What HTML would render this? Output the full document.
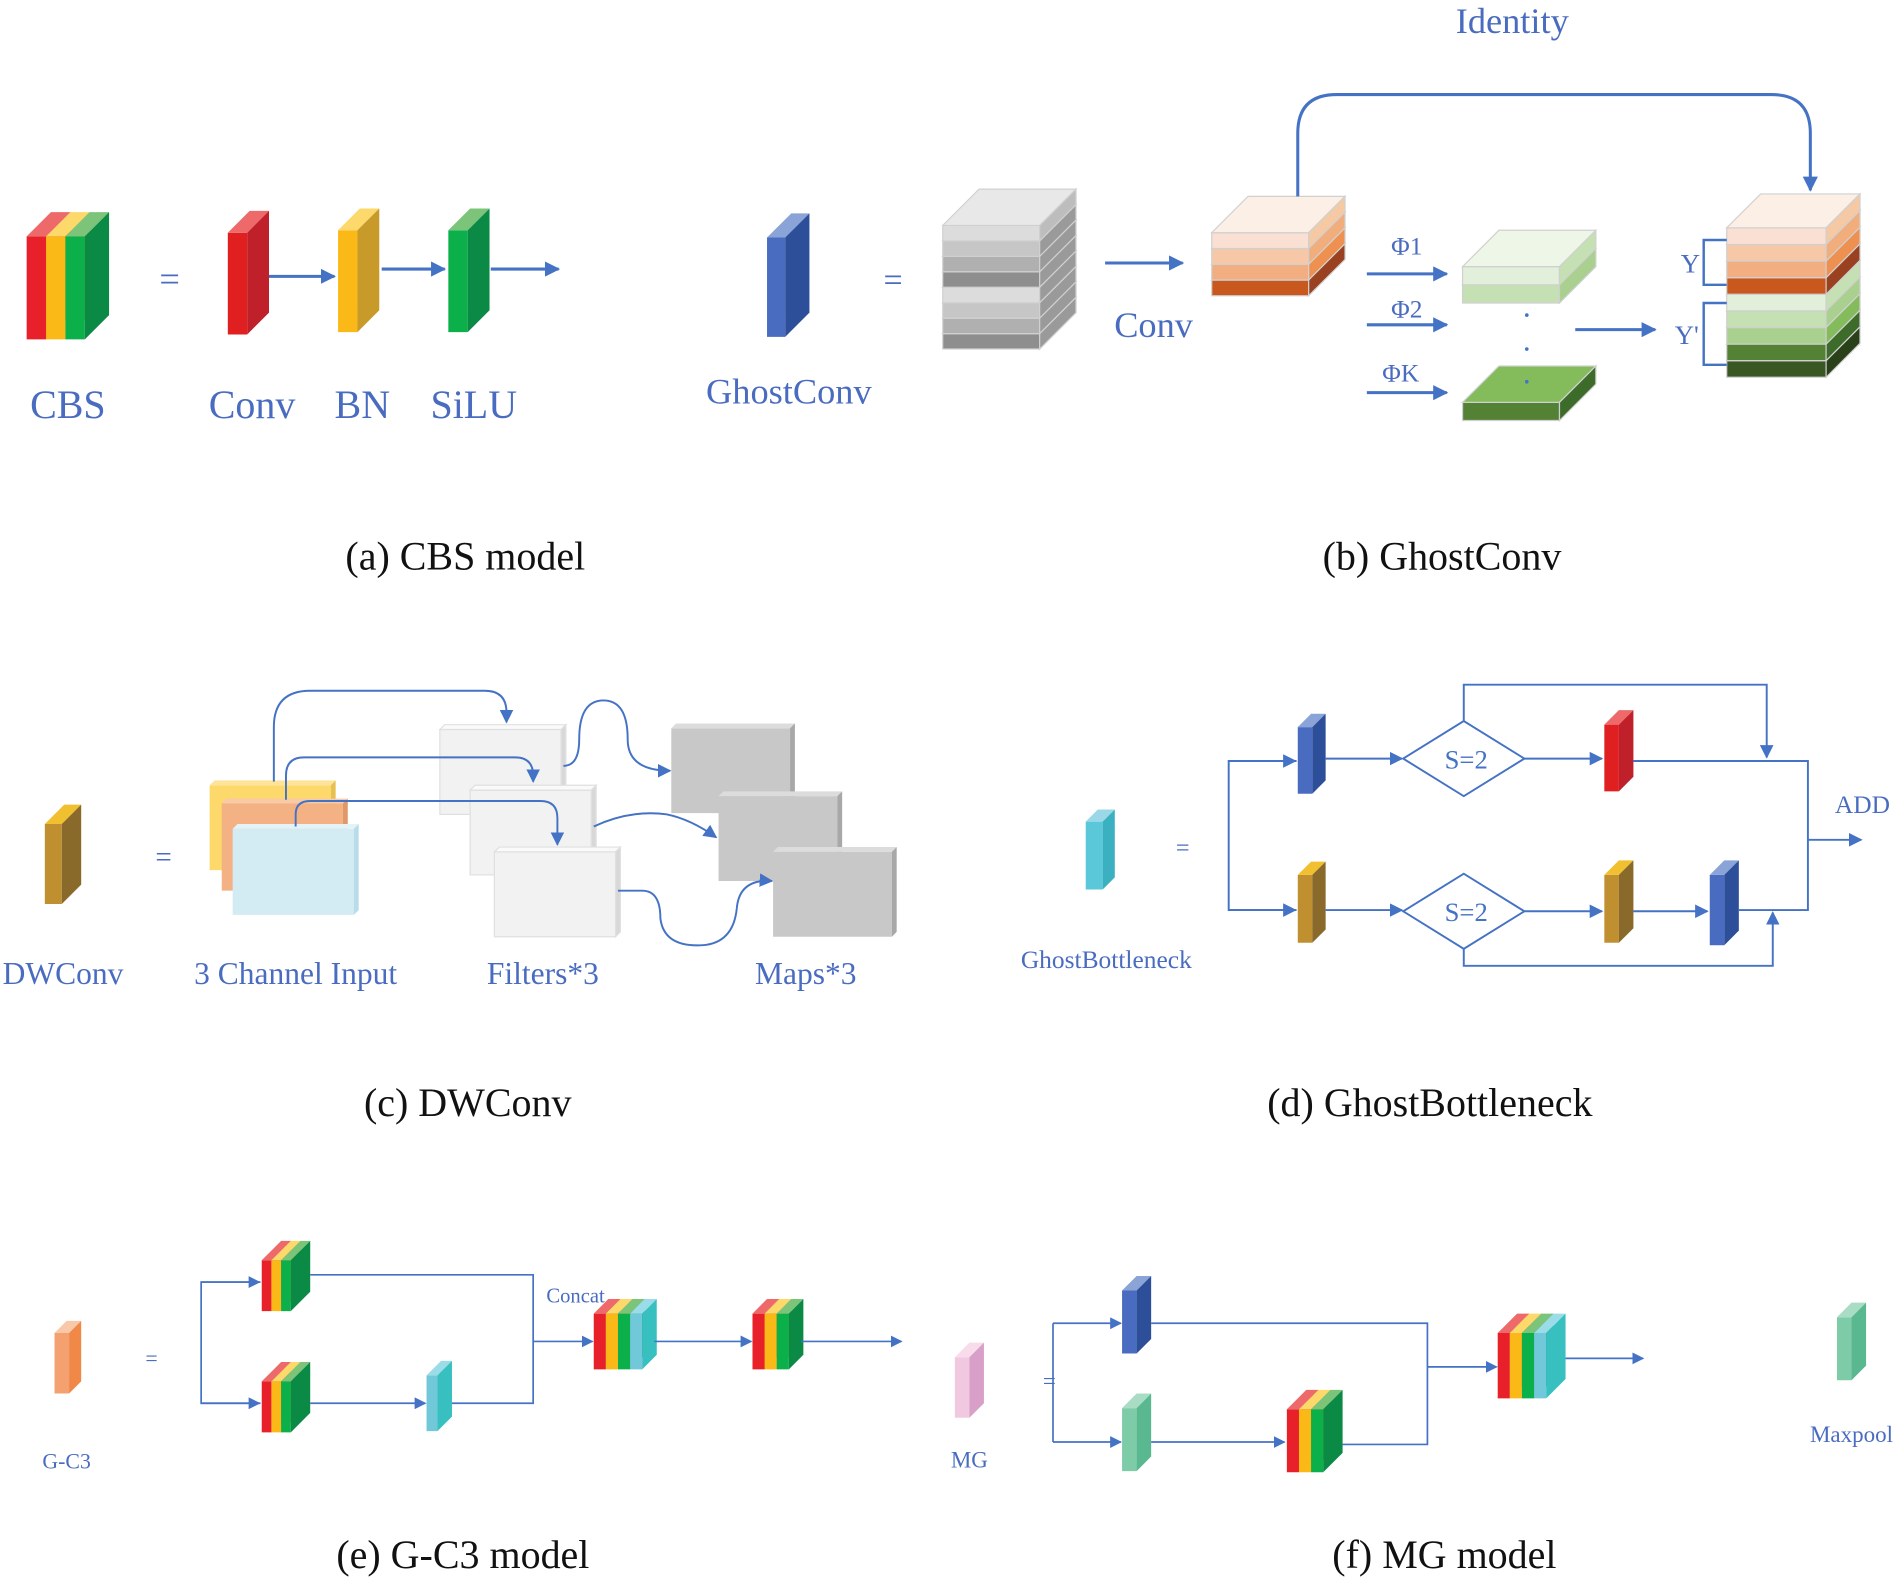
<!DOCTYPE html>
<html><head><meta charset="utf-8"><style>
html,body{margin:0;padding:0;background:#fff;}
svg{display:block;}
text{font-family:"Liberation Serif",serif;}
.b{fill:#4a6cc0;}
.cap{fill:#111;font-size:33px;text-anchor:middle;}
</style></head><body>
<svg id="s" xmlns="http://www.w3.org/2000/svg" width="1900" height="1579" viewBox="0 0 1568 1303">
<defs>
<marker id="A" viewBox="0 0 10 10" refX="9" refY="5" markerWidth="5" markerHeight="5" orient="auto" markerUnits="strokeWidth"><path d="M0,0 L10,5 L0,10 z" fill="#4472c4"/></marker>
<marker id="a" viewBox="0 0 10 10" refX="9" refY="5" markerWidth="7" markerHeight="7" orient="auto" markerUnits="strokeWidth"><path d="M0,0 L10,5 L0,10 z" fill="#4472c4"/></marker>
</defs>
<g id="shapes"></g>
<g fill="none" stroke="#4472c4">
<!-- a -->
<g stroke-width="2.5" marker-end="url(#A)">
<path d="M222 228 H276"/><path d="M315 222 H367"/><path d="M405 222 H461"/>
<path d="M912 217 H976"/>
<path d="M1071 162 V110 Q1071 78 1103 78 H1462 Q1494 78 1494 110 V157"/>
<path d="M1128 226 H1194"/><path d="M1128 268 H1194"/><path d="M1128 324 H1194"/>
<path d="M1300 272 H1366"/>
</g>
<path stroke-width="2" d="M1425 198 H1406 V235 H1425 M1425 250 H1406 V301 H1425"/>
<!-- c -->
<g stroke-width="1.6" marker-end="url(#a)">
<path d="M226 645 V600 Q226 570 256 570 H400 Q418 570 418 588 V596"/>
<path d="M236 660 V640 Q236 625 251 625 H425 Q440 625 440 640 V645"/>
<path d="M244 682 V672 Q244 661 256 661 H446 Q460 661 460 675 V697"/>
<path d="M465 632 Q478 632 478 610 Q478 578 498 578 Q518 578 518 610 Q518 636 553 636"/>
<path d="M490 682 Q520 668 550 672 Q570 676 591 691"/>
<path d="M510 735 H530 Q545 735 545 758 Q548 782 580 780 Q605 778 608 750 Q610 725 637 727"/>
</g>
<!-- d -->
<g stroke-width="1.6">
<path d="M1070 628 H1014 V751 H1070" />
<path d="M1348 628 H1492 V751 H1435"/>
<path d="M1208 595 V565 H1458 V625" marker-end="url(#a)"/>
<path d="M1208 783 V797 H1463 V753" marker-end="url(#a)"/>
<path d="M1014 628 H1069" marker-end="url(#a)"/><path d="M1014 751 H1069" marker-end="url(#a)"/>
<path d="M1094 626 H1157" marker-end="url(#a)"/><path d="M1094 751 H1157" marker-end="url(#a)"/>
<path d="M1258 626 H1322" marker-end="url(#a)"/><path d="M1258 752 H1322" marker-end="url(#a)"/>
<path d="M1348 752 H1409" marker-end="url(#a)"/>
<path d="M1492 693 H1536" marker-end="url(#a)"/>
<polygon points="1158,626 1208,595 1258,626 1208,657"/>
<polygon points="1158,752 1208,721 1258,752 1208,783"/>
</g>
<!-- e -->
<g stroke-width="1.4">
<path d="M215 1058 H166 V1158 H215" />
<path d="M166 1058 H214" marker-end="url(#a)"/><path d="M166 1158 H214" marker-end="url(#a)"/>
<path d="M256 1052 H440 V1158 H373"/>
<path d="M256 1158 H351" marker-end="url(#a)"/>
<path d="M440 1107 H489" marker-end="url(#a)"/>
<path d="M540 1107 H620" marker-end="url(#a)"/>
<path d="M661 1107 H744" marker-end="url(#a)"/>
<!-- f -->
<path d="M869 1092 V1190"/>
<path d="M869 1092 H925" marker-end="url(#a)"/><path d="M869 1190 H925" marker-end="url(#a)"/>
<path d="M950 1092 H1178 V1192 H1108"/>
<path d="M950 1190 H1060" marker-end="url(#a)"/>
<path d="M1178 1128 H1235" marker-end="url(#a)"/>
<path d="M1292 1121 H1356" marker-end="url(#a)"/>
</g>
</g>
<g fill="#4472c4"><circle cx="1260" cy="260" r="1.5"/><circle cx="1260" cy="288" r="1.5"/><circle cx="1260" cy="315" r="1.5"/></g>
<!-- text -->
<g class="b">
<text x="56" y="345" font-size="33" text-anchor="middle">CBS</text>
<text x="140" y="240" font-size="30" text-anchor="middle">=</text>
<text x="208" y="345" font-size="33" text-anchor="middle">Conv</text>
<text x="299" y="345" font-size="33" text-anchor="middle">BN</text>
<text x="391" y="345" font-size="33" text-anchor="middle">SiLU</text>
<text x="651" y="333" font-size="30" text-anchor="middle">GhostConv</text>
<text x="737" y="240" font-size="28" text-anchor="middle">=</text>
<text x="952" y="278" font-size="30" text-anchor="middle">Conv</text>
<text x="1248" y="27" font-size="30" text-anchor="middle">Identity</text>
<text x="1161" y="210" font-size="21" text-anchor="middle">Φ1</text>
<text x="1161" y="262" font-size="21" text-anchor="middle">Φ2</text>
<text x="1156" y="315" font-size="21" text-anchor="middle">ΦK</text>
<text x="1395" y="225" font-size="22" text-anchor="middle">Y</text>
<text x="1392" y="284" font-size="22" text-anchor="middle">Y'</text>
<text x="52" y="812" font-size="26" text-anchor="middle">DWConv</text>
<text x="135" y="715" font-size="24" text-anchor="middle">=</text>
<text x="244" y="812" font-size="26" text-anchor="middle">3 Channel Input</text>
<text x="448" y="812" font-size="26" text-anchor="middle">Filters*3</text>
<text x="665" y="812" font-size="26" text-anchor="middle">Maps*3</text>
<text x="913" y="799" font-size="21" text-anchor="middle">GhostBottleneck</text>
<text x="976" y="706" font-size="20" text-anchor="middle">=</text>
<text x="1537" y="671" font-size="21" text-anchor="middle">ADD</text>
<text x="55" y="1212" font-size="18" text-anchor="middle">G-C3</text>
<text x="125" y="1127" font-size="18" text-anchor="middle">=</text>
<text x="475" y="1075" font-size="17" text-anchor="middle">Concat</text>
<text x="800" y="1211" font-size="19" text-anchor="middle">MG</text>
<text x="866" y="1146" font-size="19" text-anchor="middle">=</text>
<text x="1528" y="1190" font-size="19" text-anchor="middle">Maxpool</text>
<g text-anchor="middle" fill="#4472c4" font-size="22" font-family="Liberation Sans,sans-serif">
<text x="1210" y="634">S=2</text><text x="1210" y="760">S=2</text></g>
</g>
<text class="cap" x="384" y="470">(a) CBS model</text>
<text class="cap" x="1190" y="470">(b) GhostConv</text>
<text class="cap" x="386" y="921">(c) DWConv</text>
<text class="cap" x="1180" y="921">(d) GhostBottleneck</text>
<text class="cap" x="382" y="1294">(e) G-C3 model</text>
<text class="cap" x="1192" y="1294">(f) MG model</text>
</svg>
<script>
var g=document.getElementById('shapes'),NS='http://www.w3.org/2000/svg';
function P(pts,f,st){var e=document.createElementNS(NS,'polygon');e.setAttribute('points',pts.map(function(p){return p.join(',')}).join(' '));e.setAttribute('fill',f);if(st){e.setAttribute('stroke',st);e.setAttribute('stroke-width','1');}g.appendChild(e);}
function box(x,y,w,h,d,fr,tp,sd,st){
 P([[x,y],[x+w,y],[x+w,y+h],[x,y+h]],fr,st);
 P([[x,y],[x+d,y-d],[x+w+d,y-d],[x+w,y]],tp,st);
 P([[x+w,y],[x+w+d,y-d],[x+w+d,y+h-d],[x+w,y+h]],sd,st);}
var C={r:['#e8202a','#ee6a6a','#c41e26'],y:['#fbb917','#fdd86a','#d89a10'],g:['#0bb04b','#7cc47a','#0a8a45'],
 c:['#70c8d8','#9adce8','#38c0c0']};
function multi(x,y,sw,h,d,keys,side){for(var i=0;i<keys.length;i++){var k=C[keys[i]];box(x+i*sw,y,sw,h,d,k[0],k[1],i==keys.length-1?side:k[2]);}}
function single(x,y,w,h,d,fr,tp,sd){box(x,y,w,h,d,fr,tp,sd);}
function stack(x,y,w,d,layers){// layers: [h,front,side] top->bottom
 var ys=[],cy=y;for(var i=0;i<layers.length;i++){ys.push(cy);cy+=layers[i][0];}
 for(var i=layers.length-1;i>=0;i--){var L=layers[i];box(x,ys[i],w,L[0],d,L[1],L[3]||L[1],L[2],'#d0d0d0');}}
// (a)
multi(22,195,16,85,20,['r','y','g'],'#0a8a45');
single(188,192,16,84,18,'#e02020','#ee6a6a','#c0202a');
single(279,190,16,84,18,'#fbb917','#fdd86a','#c89a2a');
single(370,190,16,84,18,'#0bb04b','#7cc47a','#0a8a45');
// (b)
single(633,196,15,82,20,'#4a6cc0','#8aa4d8','#2d4f9a');
var gr=[],gc=['#dcdcdc','#c6c6c6','#b0b0b0','#8e8e8e'];
for(var i=0;i<8;i++)gr.push([12.75,gc[i%4],'#9a9a9a',i==0?'#e8e8e8':null]);
gr[0][2]='#bdbdbd';
stack(778,186,80,30,gr);
var O=[[13,'#f9e0d2','#f6c9a5','#fcefe6'],[13,'#f7c8a8','#f2ad7d'],[13,'#f2ad80','#ee9050'],[13,'#c8581e','#9a4220']];
stack(1000,192,80,30,O);
stack(1207,220,80,30,[[15,'#e2efda','#c5e0b3','#eef6e8'],[15,'#c5e0b3','#a9d08e']]);
box(1207,332,80,15,30,'#548235','#84bc5c','#3d6b2a','#d0d0d0');
var h=13.7;
stack(1425,188,82,28,[[h,'#f9e0d2','#f6c9a5','#fcefe6'],[h,'#f7c8a8','#f2ad7d'],[h,'#f2ad80','#ee9050'],[h,'#c8581e','#9a4220'],
 [h,'#e2efda','#c5e0b3'],[h,'#c5e0b3','#a9d08e'],[h,'#a9d08e','#84bc5c'],[h,'#548235','#3d6b2a'],[h,'#385723','#2a4019']]);
// (c)
single(37,680,14,66,16,'#c09030','#f0c030','#8a6a2a');
box(173,648,100,70,4,'#fdd86a','#fde49a','#e8c050');
box(183,663,100,72,4,'#f4b183','#f8caa8','#e09868');
box(192,684,100,71,4,'#d3ebf2','#e4f3f7','#b8dce8');
box(363,602,100,70,4,'#f2f2f2','#fafafa','#d8d8d8','#e0e0e0');
box(388,652,100,70,4,'#f2f2f2','#fafafa','#d8d8d8','#e0e0e0');
box(408,703,100,70,4,'#f2f2f2','#fafafa','#d8d8d8','#e0e0e0');
box(554,601,98,70,4,'#c8c8c8','#dcdcdc','#a8a8a8');
box(593,657,98,70,4,'#c8c8c8','#dcdcdc','#a8a8a8');
box(638,703,98,70,4,'#c8c8c8','#dcdcdc','#a8a8a8');
// (d)
single(896,678,14,56,10,'#5ac8d8','#9ad8e8','#3ab0c0');
single(1071,600,12,55,11,'#4a6cc0','#8aa4d8','#2d4f9a');
single(1324,598,12,55,12,'#e02020','#ee6a6a','#c0202a');
single(1071,722,12,56,11,'#c09030','#f0c030','#8a6a2a');
single(1324,722,12,56,12,'#c09030','#f0c030','#8a6a2a');
single(1411,722,12,58,12,'#4a6cc0','#8aa4d8','#2d4f9a');
// (e)
single(45,1100,12,50,10,'#f4a070','#f8c8a8','#f08848');
multi(216,1040,8,42,16,['r','y','g'],'#0a8a45');
multi(216,1140,8,42,16,['r','y','g'],'#0a8a45');
single(352,1135,9,46,12,'#70c8d8','#9adce8','#38c0c0');
multi(490,1084,10,46,12,['r','y','g','c'],'#38c0c0');
multi(621,1084,10,46,12,['r','y','g'],'#0a8a45');
// (f)
single(788,1120,12,50,12,'#f0c8e0','#f8dcec','#d8a0c8');
single(926,1065,12,52,12,'#4a6cc0','#8aa4d8','#2d4f9a');
single(926,1162,12,52,12,'#7ecba8','#a8dcc4','#5ab890');
multi(1062,1163,10,52,16,['r','y','g'],'#0a8a45');
multi(1236,1100,10,54,16,['r','y','g','c'],'#38c0c0');
single(1516,1087,12,52,12,'#7ecba8','#a8dcc4','#5ab890');
</script>
</body></html>
